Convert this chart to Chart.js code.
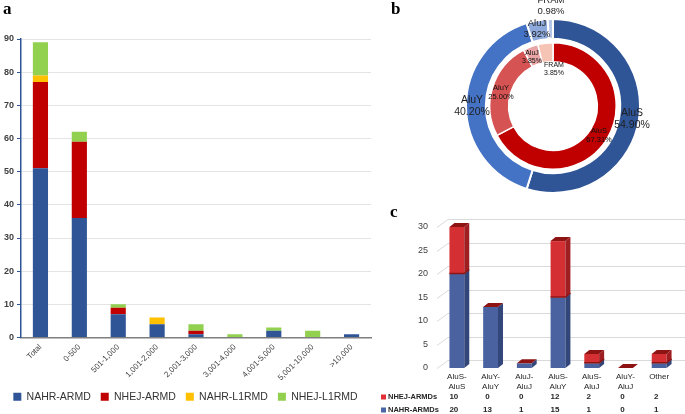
<!DOCTYPE html>
<html>
<head>
<meta charset="utf-8">
<script src="https://cdn.jsdelivr.net/npm/chart.js@4.4.0/dist/chart.umd.min.js"></script>
<style>
  html, body { margin:0; padding:0; background:#fff; }
  body { width:685px; height:414px; position:relative; overflow:hidden; }
  .panel { position:absolute; }
  .tag { position:absolute; font:bold 17px/17px "Liberation Serif", "Times New Roman", serif; color:#000; }
</style>
</head>
<body>
<div class="panel" style="left:0;top:0;width:385px;height:414px"><canvas id="sizeChart"></canvas></div>
<div class="panel" style="left:430px;top:0;width:246px;height:212px"><canvas id="ringChart"></canvas></div>
<div class="panel" style="left:345px;top:200px;width:340px;height:214px"><canvas id="pairChart"></canvas></div>
<div class="tag" style="left:3px;top:0">a</div>
<div class="tag" style="left:391px;top:0">b</div>
<div class="tag" style="left:390px;top:203px">c</div>
<script>
// panel a: ARMD counts by size bin
const sizeBins = ['Total','0-500','501-1,000','1,001-2,000','2,001-3,000','3,001-4,000','4,001-5,000','5,001-10,000','>10,000'];
const nahrArmd = [51,36,7,4,1,0,2,0,1];
const nhejArmd = [26,23,2,0,1,0,0,0,0];
const nahrL1 = [2,0,0,2,0,0,0,0,0];
const nhejL1 = [10,3,1,0,2,1,1,2,0];

// panel b: Alu subfamily share (%), outer = NAHR, inner = NHEJ
const ringLabels = ['AluS','AluY','AluJ','FRAM'];
const nahrShare = [54.90,40.20,3.92,0.98];
const nhejShare = [67.31,25.00,3.85,3.85];

// panel c: Alu pair counts
const pairs = [['AluS-','AluS'],['AluY-','AluY'],['AluJ-','AluJ'],['AluS-','AluY'],['AluS-','AluJ'],['AluY-','AluJ'],'Other'];
const nhejArmds = [10,0,0,12,2,0,2];
const nahrArmds = [20,13,1,15,1,0,1];

const FONT = '"Liberation Sans", Arial, sans-serif';
Chart.defaults.font.family = FONT;
Chart.defaults.animation = false;

// ---- a ----
new Chart(document.getElementById('sizeChart'), {
  type:'bar',
  data:{
    labels:sizeBins,
    datasets:[
      { label:'NAHR-ARMD', data:nahrArmd, backgroundColor:'#2F5597' },
      { label:'NHEJ-ARMD', data:nhejArmd, backgroundColor:'#C00000' },
      { label:'NAHR-L1RMD', data:nahrL1, backgroundColor:'#FFC000' },
      { label:'NHEJ-L1RMD', data:nhejL1, backgroundColor:'#92D050' }
    ]
  },
  options:{
    responsive:true, maintainAspectRatio:false,
    datasets:{ bar:{ barPercentage:0.39, categoryPercentage:1 } },
    layout:{ padding:{ top:39, right:14, bottom:2, left:0 } },
    plugins:{
      legend:{ position:'bottom', labels:{ boxWidth:8, boxHeight:8, padding:10, color:'#333', font:{ size:10.5 } } },
      tooltip:{ enabled:false }
    },
    scales:{
      x:{
        stacked:true,
        grid:{ display:false, drawTicks:false },
        border:{ color:'#7F7F7F', width:1.5 },
        ticks:{ font:{ size:8 }, color:'#404040', minRotation:45, maxRotation:45, autoSkip:false, padding:5 },
        afterFit:s => { s.height = 44; }
      },
      y:{
        stacked:true, min:0, max:90,
        ticks:{ stepSize:10, color:'#404040', padding:3, font:{ size:9, weight:'bold' } },
        grid:{ color:'#E4E4E4', tickColor:'#2F5597', tickLength:4 },
        border:{ color:'#2F5597', width:1.5 },
        afterFit:s => { s.width = 21; }
      }
    }
  }
});

// ---- b ----
// label blocks placed relative to the ring centre: [dataset, index, dx, dy, size]
const ringText = [
  [0,0,79,13,10.5],[0,1,-81,0,10.5],[0,2,-16,-77,9.5],[0,3,-2,-100,9.5],
  [2,0,46,29,7.5],[2,1,-52,-14,7.5],[2,2,-21,-49,7],[2,3,1,-37,7]
];
const ringLabelPlugin = {
  id:'ringLabels',
  afterDraw(chart){
    const {ctx} = chart;
    const arc = chart.getDatasetMeta(0).data[0];
    ctx.save();
    ctx.textAlign = 'center';
    ctx.textBaseline = 'middle';
    ringText.forEach(([ds, i, dx, dy, size]) => {
      const val = chart.data.datasets[ds].data[i];
      const lh = size + 1.5;
      ctx.font = `${size}px ${FONT}`;
      ctx.fillStyle = ds === 0 ? '#1F1F1F' : '#111';
      ctx.fillText(ringLabels[i], arc.x + dx, arc.y + dy - lh / 2);
      ctx.fillText(val.toFixed(2) + '%', arc.x + dx, arc.y + dy + lh / 2);
    });
    ctx.restore();
  }
};

new Chart(document.getElementById('ringChart'), {
  type:'doughnut',
  data:{
    labels:ringLabels,
    datasets:[
      { label:'NAHR-ARMDs', data:nahrShare, backgroundColor:['#2F5597','#4472C4','#8EA9DB','#B4C6E7'], borderColor:'#fff', borderWidth:2, weight:20 },
      { label:'', data:[1], backgroundColor:'rgba(0,0,0,0)', borderWidth:0, weight:4 },
      { label:'NHEJ-ARMDs', data:nhejShare, backgroundColor:['#C00000','#D65353','#E9A5A5','#F5C4B5'], borderColor:'#fff', borderWidth:1.5, weight:19 }
    ]
  },
  options:{
    responsive:true, maintainAspectRatio:false,
    cutout:'51%',
    layout:{ padding:{ top:18, bottom:18, left:0, right:0 } },
    plugins:{ legend:{ display:false }, tooltip:{ enabled:false } }
  },
  plugins:[ringLabelPlugin]
});

// ---- c ----
const DX = 5, DY = -4;
const backWall = {
  id:'backWall',
  beforeDatasetsDraw(chart){
    const {ctx, chartArea:{left, right}, scales:{y}} = chart;
    ctx.save();
    ctx.strokeStyle = '#DADADA';
    ctx.lineWidth = 1;
    y.ticks.forEach(t => {
      const py = Math.round(y.getPixelForValue(t.value)) + 0.5;
      ctx.beginPath();
      ctx.moveTo(left - 3, py);
      ctx.lineTo(left + 8, py - 8);
      ctx.lineTo(right + 9, py - 8);
      ctx.stroke();
    });
    ctx.restore();
  }
};
const barDepth = {
  id:'barDepth',
  afterDatasetsDraw(chart){
    const {ctx} = chart;
    const sides = ['#33467A','#9E1E22'];
    const tops = ['#3A5290','#8E1414'];
    const n = chart.data.labels.length;
    const last = chart.data.datasets.length - 1;
    ctx.save();
    for (let i = 0; i < n; i++) {
      chart.data.datasets.forEach((ds, d) => {
        const bar = chart.getDatasetMeta(d).data[i];
        const {x, y, base, width} = bar.getProps(['x','y','base','width'], true);
        const l = x - width / 2, r = x + width / 2;
        const top = Math.min(y, base), bot = Math.max(y, base);
        ctx.fillStyle = sides[d];
        ctx.beginPath();
        ctx.moveTo(r, top); ctx.lineTo(r + DX, top + DY); ctx.lineTo(r + DX, bot + DY); ctx.lineTo(r, bot);
        ctx.closePath(); ctx.fill();
        if (d === last) {
          ctx.fillStyle = tops[d];
          ctx.beginPath();
          ctx.moveTo(l, top); ctx.lineTo(r, top); ctx.lineTo(r + DX, top + DY); ctx.lineTo(l + DX, top + DY);
          ctx.closePath(); ctx.fill();
          // seam where the red block sits on the blue one
          if (bot - top > 0 && chart.data.datasets[0].data[i] > 0) {
            ctx.strokeStyle = tops[d];
            ctx.lineWidth = 1.5;
            ctx.beginPath();
            ctx.moveTo(l, bot - 0.5); ctx.lineTo(r, bot - 0.5); ctx.lineTo(r + DX, bot + DY - 0.5);
            ctx.stroke();
          }
        }
      });
    }
    ctx.restore();
  }
};
const dataTable = {
  id:'dataTable',
  afterDraw(chart){
    const {ctx, scales:{x}} = chart;
    const rows = [
      { name:'NHEJ-ARMDs', vals:nhejArmds, color:'#E03035', y:197 },
      { name:'NAHR-ARMDs', vals:nahrArmds, color:'#4A66A6', y:210 }
    ];
    ctx.save();
    ctx.textBaseline = 'middle';
    rows.forEach(r => {
      ctx.fillStyle = r.color;
      ctx.fillRect(36, r.y - 2.5, 5, 5);
      ctx.fillStyle = '#262626';
      ctx.font = `bold 7.5px ${FONT}`;
      ctx.textAlign = 'left';
      ctx.fillText(r.name, 43, r.y);
      ctx.font = `bold 8px ${FONT}`;
      ctx.textAlign = 'center';
      r.vals.forEach((v, i) => ctx.fillText(String(v), x.getPixelForValue(i) - 3, r.y));
    });
    ctx.restore();
  }
};

new Chart(document.getElementById('pairChart'), {
  type:'bar',
  data:{
    labels:pairs,
    datasets:[
      { label:'NAHR-ARMDs', data:nahrArmds, backgroundColor:'#4A63A0' },
      { label:'NHEJ-ARMDs', data:nhejArmds, backgroundColor:'#D42F33' }
    ]
  },
  options:{
    responsive:true, maintainAspectRatio:false,
    datasets:{ bar:{ barPercentage:0.44, categoryPercentage:1 } },
    layout:{ padding:{ top:27, right:9, bottom:0, left:0 } },
    plugins:{ legend:{ display:false }, tooltip:{ enabled:false } },
    scales:{
      x:{
        stacked:true,
        grid:{ display:false, drawTicks:false }, border:{ display:false },
        ticks:{ font:{ size:8, lineHeight:1.25 }, color:'#262626', padding:4, maxRotation:0, autoSkip:false },
        afterFit:s => { s.height = 46; }
      },
      y:{
        stacked:true, min:0, max:30,
        grid:{ display:false, drawTicks:false }, border:{ display:false },
        ticks:{ stepSize:5, color:'#404040', padding:12, font:{ size:9 } },
        afterFit:s => { s.width = 95; }
      }
    }
  },
  plugins:[backWall, barDepth, dataTable]
});
</script>
</body>
</html>
